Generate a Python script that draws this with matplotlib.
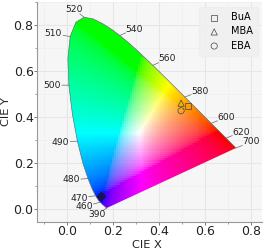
import numpy as np
import matplotlib
matplotlib.use("Agg")
import matplotlib.pyplot as plt
from matplotlib.path import Path
from matplotlib.patches import PathPatch
from matplotlib.ticker import MultipleLocator

locus_x = [.1741,.1740,.1738,.1736,.1733,.1730,.1726,.1721,.1714,.1703,.1689,.1669,.1644,.1611,.1566,.1510,.1440,.1355,.1241,.1096,.0913,.0687,.0454,.0235,.0082,.0039,.0139,.0389,.0743,.1142,.1547,.1929,.2296,.2658,.3016,.3373,.3731,.4087,.4441,.4788,.5125,.5448,.5752,.6029,.6270,.6482,.6658,.6801,.6915,.7006,.7079,.7140,.7190,.7230,.7260,.7283,.7300,.7311,.7320,.7334,.7347]
locus_y = [.0050,.0050,.0049,.0049,.0048,.0048,.0048,.0048,.0051,.0058,.0069,.0086,.0109,.0138,.0177,.0227,.0297,.0399,.0578,.0868,.1327,.2007,.2950,.4127,.5384,.6548,.7502,.8120,.8338,.8262,.8059,.7816,.7543,.7243,.6923,.6589,.6245,.5896,.5547,.5202,.4866,.4544,.4242,.3965,.3725,.3514,.3340,.3197,.3083,.2993,.2920,.2859,.2809,.2770,.2740,.2717,.2700,.2689,.2680,.2666,.2653]

wl_labels = ["520","510","500","490","480","470","460","390","540","560","580","600","620","700"]
wl_x = [.0743,.0139,.0082,.0454,.0913,.1241,.1440,.1738,.2296,.3731,.5125,.6270,.6915,.7347]
wl_y = [.8338,.7502,.5384,.2950,.1327,.0578,.0297,.0049,.7543,.6245,.4866,.3725,.3083,.2653]
label_dx = [-10,-17,-17,-17,-17,-16.5,-16,-10,14,14,15,15,15,15]
label_dy = [8,2.5,0,-1,-1.5,-2.3,-4.5,-6.5,6.5,6.5,6,6,6,6]

series = ["BuA","MBA","EBA"]
series_x = [.526,.496,.496]
series_y = [.448,.460,.427]
series_marker = ["s","^","o"]

blob_x = [.148]
blob_y = [.055]

plt.rcParams['font.family'] = 'DejaVu Sans'
fig = plt.figure(figsize=(2.65,2.5), dpi=100, facecolor='white')
W,H = 265,250
ax = fig.add_axes([37/W, 1-222/H, (262-37)/W, (222-2)/H])
ax.set_facecolor('#f6f6f6')

# colour field
n = 90
gx = np.linspace(-0.01,0.76,n)
gy = np.linspace(-0.01,0.85,n)
xx,yy = np.meshgrid(gx,gy)
yy_s = np.maximum(yy,1e-3)
X = xx/yy_s; Y = np.ones_like(xx); Z = (1-xx-yy)/yy_s
M = np.array([[3.2406,-1.5372,-0.4986],[-0.9689,1.8758,0.0415],[0.0557,-0.2040,1.0570]])
rgb = np.einsum('ij,jkl->ikl',M,np.stack([X,Y,Z]))
rgb = np.moveaxis(rgb,0,-1)
rgb = np.clip(rgb,0,None)
rgb = rgb/np.maximum(rgb.max(axis=-1,keepdims=True),1e-6)
rgb = np.where(rgb<=0.0031308,12.92*rgb,1.055*np.power(rgb,1/2.4)-0.055)
im = ax.imshow(rgb,origin='lower',extent=[gx[0],gx[-1],gy[0],gy[-1]],interpolation='nearest',aspect='auto',zorder=2)
poly = list(zip(locus_x,locus_y))+[(locus_x[0],locus_y[0])]
patch = PathPatch(Path(poly),transform=ax.transData,fc='none',ec='none')
ax.add_patch(patch)
im.set_clip_path(patch)
ax.plot(locus_x,locus_y,color='#667077',lw=0.5,zorder=3)
ax.scatter(blob_x,blob_y,marker='D',s=26,color='#15154f',linewidth=0,zorder=3)
ax.set_xlim((37-67)/230,(262-67)/230)
ax.set_ylim((209-222)/230,(209-2)/230)

ax.xaxis.set_major_locator(MultipleLocator(0.2))
ax.yaxis.set_major_locator(MultipleLocator(0.2))
ax.xaxis.set_minor_locator(MultipleLocator(0.1))
ax.yaxis.set_minor_locator(MultipleLocator(0.1))
ax.grid(True,which='major',color='#e6e6e6',lw=0.8,zorder=1)
ax.grid(True,which='minor',color='#eeeeee',lw=0.5,zorder=1)
ax.set_axisbelow(True)
ax.tick_params(which='major',length=2,width=0.7,color='#777777',labelsize=9,pad=0.5,labelcolor='#222222')
ax.tick_params(which='minor',length=1.2,width=0.5,color='#777777')
for s in ['top','right']:
    ax.spines[s].set_visible(False)
for s in ['left','bottom']:
    ax.spines[s].set_color('#999999'); ax.spines[s].set_linewidth(0.8)
ax.set_xlabel("CIE X",fontsize=8.2,color='#222222',va='center')
ax.set_ylabel("CIE Y",fontsize=8.2,color='#222222',va='center')
ax.xaxis.set_label_coords(0.489,-0.103)
ax.yaxis.set_label_coords(-0.138,0.5)

px = 72/100
for t,x,y,dx,dy in zip(wl_labels,wl_x,wl_y,label_dx,label_dy):
    f = 0.42
    ax.annotate("",xy=(x,y),xytext=(dx*f*px,dy*f*px),textcoords='offset points',
                arrowprops=dict(arrowstyle='-',color='#666666',lw=0.5,shrinkA=0,shrinkB=0),zorder=4)
    ax.annotate(t,xy=(x,y),xytext=(dx*px,dy*px),textcoords='offset points',ha='center',va='center',
                fontsize=6.6,color='#222222',zorder=5)

for name,x,y,m in zip(series,series_x,series_y,series_marker):
    ax.scatter([x],[y],marker=m,s=20,facecolor='none',edgecolor='#444444',linewidth=0.5,label=name,zorder=6)

leg = ax.legend(loc='upper right',fontsize=7,frameon=True,facecolor='#f0f0f0',edgecolor='#eeeeee',
                framealpha=0.9,handletextpad=0.7,labelspacing=0.42,borderpad=0.55,handlelength=2.0,
                bbox_to_anchor=(0.982,0.977),borderaxespad=0)
fig.savefig('out.png',dpi=100)
